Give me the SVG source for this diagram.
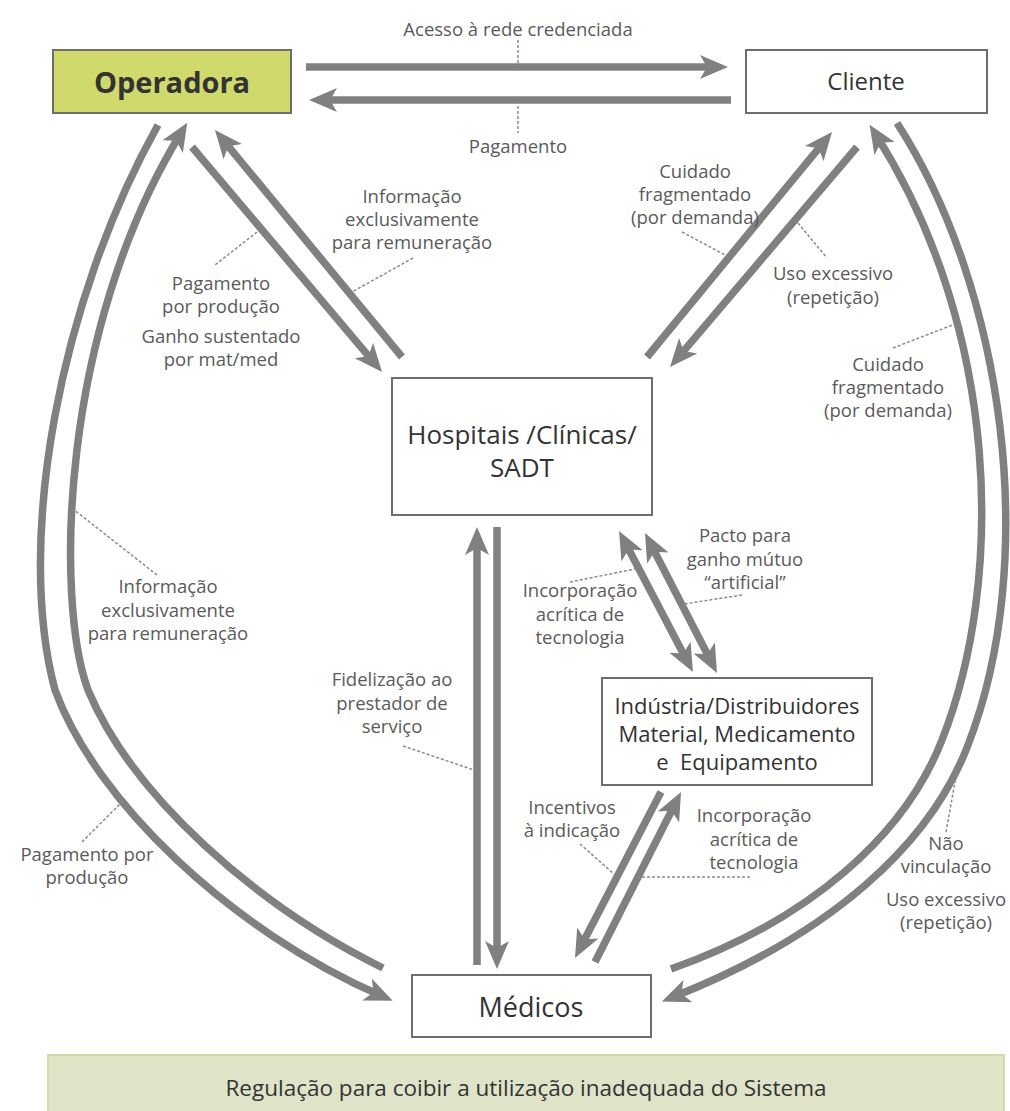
<svg xmlns="http://www.w3.org/2000/svg" width="1010" height="1111" viewBox="0 0 1010 1111">
<style>
.box{fill:#ffffff;stroke:#6e6e6e;stroke-width:2}
.arr{fill:none;stroke:#808080;stroke-width:7.5;marker-end:url(#ah)}
.arr2{fill:none;stroke:#808080;stroke-width:7.5;marker-start:url(#ah2);marker-end:url(#ah2)}
.lead{fill:none;stroke:#8a8a8a;stroke-width:1.5;stroke-dasharray:3 2}
.lbl{font-family:"Open Sans","Noto Sans",sans-serif;font-size:18.5px;fill:#5a5a5a;text-anchor:middle}
.ntx{font-family:"Open Sans","Noto Sans",sans-serif;fill:#333333;text-anchor:middle}
</style>
<defs>
<marker id="ah" markerUnits="userSpaceOnUse" markerWidth="28" markerHeight="26" viewBox="0 0 28 26" refX="16" refY="13" orient="auto"><path d="M0,1 L28,13 L0,25 L7,13 Z" fill="#808080"/></marker>
<marker id="ah2" markerUnits="userSpaceOnUse" markerWidth="28" markerHeight="26" viewBox="0 0 28 26" refX="16" refY="13" orient="auto-start-reverse"><path d="M0,1 L28,13 L0,25 L7,13 Z" fill="#808080"/></marker>
</defs>
<rect width="1010" height="1111" fill="#ffffff"/>

<g id="connectors">
<path class="arr" d="M306,67 L716,67"/>
<path class="arr" d="M731,100 L321,100"/>
<path class="arr" d="M192,147 L374.3,362.8"/>
<path class="arr" d="M402,357 L222.6,139.3"/>
<path class="arr" d="M647,357 L824.4,141.3"/>
<path class="arr" d="M857,147 L677.8,357.9"/>
<path class="arr" d="M477,965 L477,539"/>
<path class="arr" d="M497,527 L497,957"/>
<path class="arr2" d="M624.6,541.6 L687.4,661.4"/>
<path class="arr2" d="M650.5,543.7 L711.5,662.3"/>
<path class="arr" d="M661,792 L580.5,947.3"/>
<path class="arr" d="M595,962 L675.6,802.7"/>
<path class="arr" d="M158,125 C60,300 15,540 55,690 C95,800 230,930 381.7,995.9"/>
<path class="arr" d="M383,968 C255,905 132,795 88,690 C55,600 60,330 181,133"/>
<path class="arr" d="M897,123 C1005,290 1040,560 968,745 C930,845 830,935 673,997"/>
<path class="arr" d="M671,969 C810,920 905,835 942,740 C1005,580 1000,330 876,135"/>
</g>

<g id="leaders">
<path class="lead" d="M518,40 L518,66"/>
<path class="lead" d="M518,101 L518,133"/>
<path class="lead" d="M257,232 L215,265"/>
<path class="lead" d="M413,258 L352,292"/>
<path class="lead" d="M682,232 L727,256"/>
<path class="lead" d="M798,223 L827,258"/>
<path class="lead" d="M893,348 L955,324"/>
<path class="lead" d="M157,575 L73,509"/>
<path class="lead" d="M82,842 L124,800"/>
<path class="lead" d="M403,746 L474,770"/>
<path class="lead" d="M570,582 L635,569"/>
<path class="lead" d="M742,595 L684,604"/>
<path class="lead" d="M580,844 L614,874"/>
<path class="lead" d="M637,877 L752,877"/>
<path class="lead" d="M946,832 L957,771"/>
</g>

<g id="labels" class="lbl">
<text x="518" y="36">Acesso à rede credenciada</text>
<text x="518" y="153">Pagamento</text>
<text x="412" y="202.7">Informação</text>
<text x="412" y="226">exclusivamente</text>
<text x="412" y="249.3">para remuneração</text>
<text x="221" y="290">Pagamento</text>
<text x="221" y="313.3">por produção</text>
<text x="221" y="343">Ganho sustentado</text>
<text x="221" y="366.3">por mat/med</text>
<text x="695" y="177.7">Cuidado</text>
<text x="695" y="201">fragmentado</text>
<text x="695" y="224.3">(por demanda)</text>
<text x="833" y="280.3">Uso excessivo</text>
<text x="833" y="303.6">(repetição)</text>
<text x="888" y="370.5">Cuidado</text>
<text x="888" y="393.8">fragmentado</text>
<text x="888" y="417.1">(por demanda)</text>
<text x="168" y="593.3">Informação</text>
<text x="168" y="616.6">exclusivamente</text>
<text x="168" y="639.9">para remuneração</text>
<text x="87" y="861">Pagamento por</text>
<text x="87" y="884.3">produção</text>
<text x="392" y="686.3">Fidelização ao</text>
<text x="392" y="709.6">prestador de</text>
<text x="392" y="732.9">serviço</text>
<text x="580" y="597.3">Incorporação</text>
<text x="580" y="620.6">acrítica de</text>
<text x="580" y="643.9">tecnologia</text>
<text x="745" y="542.3">Pacto para</text>
<text x="745" y="565.6">ganho mútuo</text>
<text x="745" y="588.9">“artificial”</text>
<text x="572" y="814">Incentivos</text>
<text x="572" y="837.3">à indicação</text>
<text x="754" y="822.3">Incorporação</text>
<text x="754" y="845.6">acrítica de</text>
<text x="754" y="868.9">tecnologia</text>
<text x="946" y="850">Não</text>
<text x="946" y="873.3">vinculação</text>
<text x="946" y="906">Uso excessivo</text>
<text x="946" y="929.3">(repetição)</text>
</g>

<g id="operadora">
<rect x="53" y="50" width="238" height="63" fill="#cfd96c" stroke="#6e6e6e" stroke-width="2"/>
<text class="ntx" x="172" y="93" font-size="29" font-weight="bold" fill="#2e3514">Operadora</text>
</g>
<g id="cliente">
<rect class="box" x="746" y="50" width="241" height="63"/>
<text class="ntx" x="866" y="90" font-size="24">Cliente</text>
</g>
<g id="hospitais">
<rect class="box" x="392" y="378" width="260" height="137"/>
<text class="ntx" x="522" y="444" font-size="26">Hospitais /Clínicas/</text>
<text class="ntx" x="522" y="477" font-size="26">SADT</text>
</g>
<g id="industria">
<rect class="box" x="602" y="678" width="270" height="107"/>
<text class="ntx" x="737" y="714" font-size="22">Indústria/Distribuidores</text>
<text class="ntx" x="737" y="742" font-size="22">Material, Medicamento</text>
<text class="ntx" x="737" y="770" font-size="22">e&#160; Equipamento</text>
</g>
<g id="medicos">
<rect class="box" x="412" y="975" width="239" height="62"/>
<text class="ntx" x="531" y="1017" font-size="27">Médicos</text>
</g>
<g id="regulacao">
<rect x="48" y="1055" width="956" height="60" fill="#dfe3c8" stroke="#d4dba9" stroke-width="2"/>
<text class="ntx" x="526" y="1096" font-size="22.5" fill="#444444">Regulação para coibir a utilização inadequada do Sistema</text>
</g>
</svg>
